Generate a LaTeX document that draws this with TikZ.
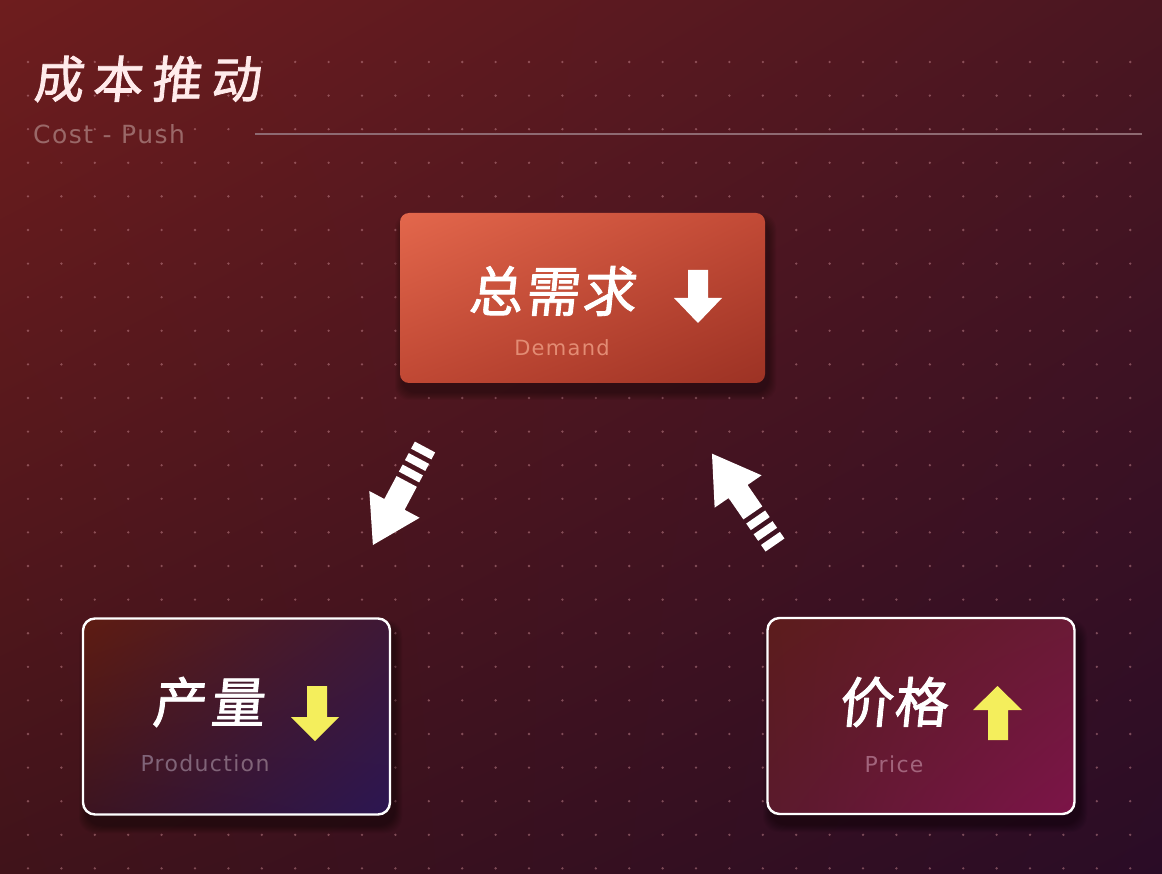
\documentclass[tikz,border=0pt]{standalone}
\usepackage{fontspec}
\usetikzlibrary{shadings}
\newfontfamily\cjk[FakeSlant=0.10, FakeBold=1.6]{Noto Sans CJK SC}
\newfontfamily\eng[LetterSpace=6]{DejaVu Sans}
\definecolor{bgUL}{HTML}{6E1D1E}
\definecolor{bgUR}{HTML}{4A1621}
\definecolor{bgLL}{HTML}{40131A}
\definecolor{bgLR}{HTML}{2A0C26}
\definecolor{dotc}{HTML}{C88890}
\definecolor{rulec}{HTML}{8E6A72}
\definecolor{costc}{HTML}{9A6868}
\definecolor{dmUL}{HTML}{E3674C}
\definecolor{dmUR}{HTML}{C24A36}
\definecolor{dmLL}{HTML}{C04834}
\definecolor{dmLR}{HTML}{9C3224}
\definecolor{dmtxt}{HTML}{E38C74}
\definecolor{pdUL}{HTML}{5E1C12}
\definecolor{pdUR}{HTML}{3E1836}
\definecolor{pdLL}{HTML}{3C1420}
\definecolor{pdLR}{HTML}{2C1652}
\definecolor{pdtxt}{HTML}{806478}
\definecolor{prUL}{HTML}{5C1C1C}
\definecolor{prUR}{HTML}{6A1A36}
\definecolor{prLL}{HTML}{5A1A2C}
\definecolor{prLR}{HTML}{7C1448}
\definecolor{prtxt}{HTML}{A2647C}
\definecolor{yel}{HTML}{F4EE5C}
\begin{document}
\begin{tikzpicture}[x=1pt,y=-1pt,
  cardbox/.style={rounded corners=12pt, minimum width=307pt, minimum height=196pt, draw=white, line width=2.4pt, inner sep=0pt},
  demandbox/.style={rounded corners=9pt, minimum width=365pt, minimum height=170pt, inner sep=0pt},
  cjktext/.style={text=white, inner sep=0pt, font=\cjk\fontsize{52}{52}\selectfont},
  subtext/.style={inner sep=0pt, font=\eng\fontsize{22}{22}\selectfont},
  pics/bigarrow/.style={code={
    \fill[white] (0,-11.5) rectangle (8,11.5);
    \fill[white] (13,-11.5) rectangle (21,11.5);
    \fill[white] (26,-11.5) rectangle (34,11.5);
    \fill[white] (39,-11.5) -- (65,-11.5) -- (65,-28.5) -- (111,0) -- (65,28.5) -- (65,11.5) -- (39,11.5) -- cycle;
  }}
]
\shade[upper left=bgUL, upper right=bgUR, lower left=bgLL, lower right=bgLR] (0,0) rectangle (1162,874);
\useasboundingbox (0,0) rectangle (1162,874);
% dot grid
\foreach \i in {0,...,34}{
  \foreach \j in {0,...,24}{
    \fill[dotc, opacity=0.5] (28+33.4*\i, 62+33.6*\j) circle (1.3);
  }
}
% title
\node[anchor=west, text=white!92!red, inner sep=0pt, font=\cjk\fontsize{50}{50}\selectfont\addfontfeature{LetterSpace=18}] (title) at (33,79) {成本推动};
\node[anchor=west, text=costc, inner sep=0pt, font=\eng\fontsize{25}{25}\selectfont] (subtitle) at (33,134) {Cost - Push};
\coordinate (ruleA) at (255,134);
\coordinate (ruleB) at (1142,134);
\draw[rulec, line width=1.8pt] (ruleA) -- (ruleB);

% shadows
\foreach \k in {1,...,8}{
  \fill[black, opacity=0.045, rounded corners=14pt] (400-\k+3, 213-\k+9) rectangle (765+\k+3, 383+\k+9);
  \fill[black, opacity=0.05, rounded corners=16pt] (83-\k+4, 618-\k+10) rectangle (390+\k+4, 815+\k+10);
  \fill[black, opacity=0.05, rounded corners=16pt] (767-\k+4, 618-\k+10) rectangle (1075+\k+4, 814+\k+10);
}

% demand box
\node[demandbox, upper left=dmUL, upper right=dmUR, lower left=dmLL, lower right=dmLR] (demand) at (582.5,298) {};
\node[cjktext, font=\cjk\fontsize{54}{54}\selectfont\addfontfeature{LetterSpace=5}] (demandcn) at (552,291) {总需求};
\node[subtext, text=dmtxt, font=\eng\fontsize{21}{21}\selectfont] (demanden) at (562,348) {Demand};
\fill[white] (688,270) -- (708,270) -- (708,298) -- (722,298) -- (698,323) -- (674,298) -- (688,298) -- cycle;

% production box
\node[cardbox, upper left=pdUL, upper right=pdUR, lower left=pdLL, lower right=pdLR] (prod) at (236.5,716.5) {};
\node[cjktext, font=\cjk\fontsize{54}{54}\selectfont\addfontfeature{LetterSpace=8}] (prodcn) at (208,702) {产量};
\node[subtext, text=pdtxt] (proden) at (205,763) {Production};
\fill[yel] (307,686) -- (327,686) -- (327,717) -- (339,717) -- (315,741) -- (291,717) -- (307,717) -- cycle;

% price box
\node[cardbox, upper left=prUL, upper right=prUR, lower left=prLL, lower right=prLR] (price) at (921,716) {};
\node[cjktext, font=\cjk\fontsize{54}{54}\selectfont\addfontfeature{LetterSpace=2}] (pricecn) at (893,702) {价格};
\node[subtext, text=prtxt] (priceen) at (894,764) {Price};
\fill[yel] (988,740) -- (1008,740) -- (1008,710) -- (1022,710) -- (997.5,686) -- (973,710) -- (988,710) -- cycle;

% flow arrows
\pic[rotate=242] (arrL) at (425,447) {bigarrow};
\pic[rotate=124.6] (arrR) at (775,545) {bigarrow};
\end{tikzpicture}
\end{document}
